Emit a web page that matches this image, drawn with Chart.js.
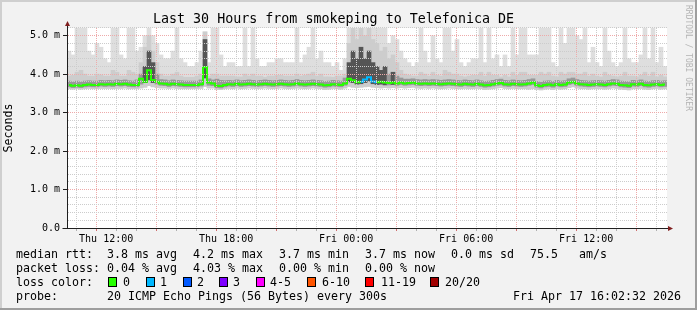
<!DOCTYPE html>
<html><head><meta charset="utf-8">
<script src="https://cdn.jsdelivr.net/npm/chart.js@4.4.1/dist/chart.umd.min.js"></script>
<style>
html,body{margin:0;padding:0;background:#f2f2f2;}
#wrap{position:relative;width:697px;height:310px;overflow:hidden;font-family:'DejaVu Sans Mono',monospace;}
canvas{position:absolute;left:0;top:0;}
.t{position:absolute;font-size:11.63px;line-height:14px;white-space:pre;color:#000;}
.box{position:absolute;width:7px;height:8px;border:1px solid #000;}
#rrd{position:absolute;left:684px;top:5px;writing-mode:vertical-rl;font-size:8px;color:#b4b4b4;line-height:8px;white-space:pre;}
</style></head><body>
<div id="wrap"><canvas id="c" width="697" height="310"></canvas><div id="rrd">RRDTOOL / TOBI OETIKER</div></div>
<script>
// ---------- data ----------
const TITLE = 'Last 30 Hours from smokeping to Telefonica DE';
const START = 10 + 2/60 + 32/3600;   // hours since Thu 00:00
const STEP = 0.2;                    // hours per sample

const median = [
3.72,3.70,3.71,3.70,3.72,3.73,3.72,3.72,3.74,3.73,
3.74,3.73,3.75,3.74,3.75,3.73,3.72,3.72,3.88,3.80,
4.10,3.85,3.80,3.76,3.75,3.73,3.75,3.74,3.73,3.72,
3.72,3.72,3.72,3.74,4.18,3.78,3.76,3.70,3.69,3.72,
3.74,3.73,3.75,3.73,3.74,3.75,3.74,3.73,3.74,3.75,
3.74,3.73,3.74,3.75,3.74,3.73,3.74,3.76,3.74,3.73,
3.74,3.75,3.74,3.73,3.71,3.72,3.74,3.73,3.72,3.76,
3.88,3.84,3.79,3.80,3.86,3.92,3.81,3.79,3.80,3.78,
3.77,3.78,3.76,3.78,3.76,3.77,3.78,3.76,3.75,3.76,
3.75,3.76,3.75,3.74,3.75,3.76,3.75,3.74,3.73,3.75,
3.74,3.73,3.75,3.73,3.71,3.72,3.74,3.76,3.77,3.74,
3.73,3.75,3.74,3.73,3.74,3.76,3.78,3.71,3.69,3.72,
3.73,3.71,3.74,3.72,3.73,3.78,3.80,3.76,3.74,3.73,
3.72,3.73,3.74,3.73,3.72,3.74,3.76,3.75,3.72,3.71,
3.70,3.74,3.73,3.75,3.72,3.71,3.73,3.74,3.72,3.73];

const loss = [
0,0,0,0,0,0,0,0,0,0, 0,0,0,0,0,0,0,0,0,0, 0,0,0,0,0,0,0,0,0,0,
0,0,0,0,0,0,0,0,0,0, 0,0,0,0,0,0,0,0,0,0, 0,0,0,0,0,0,0,0,0,0,
0,0,0,0,0,0,0,0,0,0, 0,0,0,1,1,1,1,0,0,0, 0,0,0,0,0,0,0,0,0,0,
0,0,0,0,0,0,0,0,0,0, 0,0,0,0,0,0,0,0,0,0, 0,0,0,0,0,0,0,0,0,0,
0,0,0,0,0,0,0,0,0,0, 0,0,0,0,0,0,0,0,0,0, 0,0,0,0,0,0,0,0,0,0];

const smokeMax = [
4.6,4.5,5.2,5.2,5.2,4.6,4.5,4.8,4.7,4.4,
4.3,5.2,5.2,4.5,4.4,5.2,5.2,4.6,4.7,5.0,
5.2,5.0,4.8,4.5,4.4,4.4,4.6,5.2,4.4,4.3,
4.2,4.2,4.3,4.6,5.1,4.3,5.2,5.2,4.5,4.2,
4.3,4.3,4.2,4.2,5.2,4.2,5.2,4.4,4.2,4.2,
4.3,4.3,4.4,4.4,4.3,4.3,4.3,5.2,4.3,4.5,
4.7,5.2,4.4,4.6,4.3,4.3,4.2,4.3,4.1,4.4,
5.2,5.2,5.2,5.2,5.2,5.2,5.2,5.2,5.2,5.2,
4.8,5.0,4.9,4.6,4.4,4.3,4.2,4.3,5.2,4.6,
4.3,5.0,4.4,4.3,5.2,5.2,4.6,4.9,4.3,4.2,
4.3,4.4,4.4,5.2,4.3,5.2,4.4,4.5,4.2,4.5,
4.2,5.2,4.5,5.2,5.2,4.5,4.5,4.5,5.2,5.2,
5.2,4.3,4.2,5.2,4.8,5.2,5.2,5.0,4.9,5.2,
4.3,4.7,4.3,4.2,5.2,4.6,4.3,4.2,4.3,5.2,
4.4,4.3,4.3,4.5,5.2,4.4,5.2,4.3,4.7,4.2];

const smokeUpper = [
3.95,3.97,4.05,4.10,4.00,3.95,3.95,4.00,3.98,3.95,
3.95,4.10,4.05,3.95,3.95,4.10,4.05,4.00,4.30,4.70,
5.00,4.60,4.30,4.00,3.95,3.95,4.00,4.05,3.95,3.92,
3.92,3.92,3.95,4.00,5.10,3.95,4.00,4.00,3.95,3.95,
3.95,3.95,3.93,3.93,4.00,3.95,4.00,3.95,3.95,3.92,
3.95,3.95,3.97,3.97,3.95,3.95,3.95,4.00,3.95,3.97,
4.00,4.05,3.95,4.00,3.93,3.93,3.92,3.95,3.95,4.00,
4.80,5.20,4.90,5.20,5.00,5.20,4.90,4.80,4.60,4.70,
4.40,4.50,4.30,4.10,4.00,3.97,3.95,3.95,4.05,4.00,
3.95,4.05,3.97,3.95,4.10,4.05,4.00,4.00,3.95,3.93,
3.95,3.97,3.97,4.05,3.95,4.05,3.97,3.97,3.93,3.97,
3.93,4.05,3.97,4.05,4.05,3.97,3.97,3.97,4.05,4.00,
4.05,3.95,3.93,4.05,4.00,4.05,4.05,4.00,4.00,4.05,
3.95,4.00,3.95,3.93,4.05,3.97,3.95,3.93,3.95,4.05,
3.95,3.95,3.93,3.97,4.05,3.95,4.05,3.93,3.97,3.93];

const smokeMin = [
3.62,3.61,3.62,3.61,3.62,3.63,3.62,3.62,3.63,3.63,
3.63,3.62,3.63,3.63,3.64,3.62,3.62,3.62,3.64,3.66,
3.70,3.67,3.65,3.64,3.64,3.63,3.64,3.63,3.62,3.62,
3.62,3.62,3.62,3.63,3.68,3.64,3.64,3.60,3.60,3.62,
3.63,3.62,3.64,3.62,3.63,3.64,3.63,3.62,3.63,3.64,
3.63,3.62,3.63,3.64,3.63,3.62,3.63,3.64,3.63,3.62,
3.63,3.64,3.63,3.62,3.60,3.61,3.63,3.62,3.61,3.64,
3.68,3.66,3.65,3.66,3.67,3.68,3.66,3.65,3.64,3.65,
3.64,3.65,3.64,3.65,3.64,3.65,3.66,3.64,3.63,3.64,
3.63,3.64,3.63,3.62,3.63,3.64,3.63,3.62,3.62,3.63,
3.62,3.62,3.63,3.62,3.60,3.61,3.62,3.64,3.65,3.63,
3.62,3.63,3.62,3.62,3.62,3.61,3.62,3.60,3.59,3.61,
3.62,3.60,3.62,3.61,3.62,3.65,3.67,3.64,3.62,3.62,
3.61,3.62,3.62,3.62,3.61,3.62,3.64,3.63,3.61,3.60,
3.59,3.62,3.62,3.63,3.61,3.60,3.62,3.63,3.61,3.62];

const coreLow = [
3.67,3.65,3.66,3.65,3.67,3.68,3.67,3.67,3.69,3.68,
3.69,3.68,3.70,3.69,3.70,3.68,3.67,3.67,3.74,3.78,
3.85,3.78,3.74,3.71,3.70,3.68,3.70,3.69,3.68,3.67,
3.67,3.67,3.67,3.69,3.90,3.71,3.70,3.65,3.64,3.67,
3.69,3.68,3.70,3.68,3.69,3.70,3.69,3.68,3.69,3.70,
3.69,3.68,3.69,3.70,3.69,3.68,3.69,3.71,3.69,3.68,
3.69,3.70,3.69,3.68,3.66,3.67,3.69,3.68,3.67,3.71,
3.80,3.78,3.74,3.75,3.78,3.82,3.75,3.73,3.74,3.72,
3.72,3.73,3.71,3.73,3.71,3.72,3.73,3.71,3.70,3.71,
3.70,3.71,3.70,3.69,3.70,3.71,3.70,3.69,3.68,3.70,
3.69,3.68,3.70,3.68,3.66,3.67,3.69,3.71,3.72,3.69,
3.68,3.70,3.69,3.68,3.69,3.71,3.73,3.66,3.64,3.67,
3.68,3.66,3.69,3.67,3.68,3.73,3.75,3.71,3.69,3.68,
3.67,3.68,3.69,3.68,3.67,3.69,3.71,3.70,3.67,3.66,
3.65,3.69,3.68,3.70,3.67,3.66,3.68,3.69,3.67,3.68];

const coreHigh = [
3.82,3.80,3.82,3.80,3.82,3.83,3.82,3.82,3.84,3.83,
3.84,3.83,3.85,3.84,3.85,3.83,3.82,3.85,4.00,4.20,
4.60,4.30,4.00,3.86,3.85,3.83,3.85,3.84,3.83,3.82,
3.82,3.82,3.82,3.85,4.90,3.88,3.85,3.87,3.84,3.83,
3.84,3.83,3.85,3.83,3.84,3.85,3.84,3.83,3.84,3.85,
3.84,3.83,3.84,3.85,3.84,3.83,3.84,3.86,3.84,3.83,
3.84,3.85,3.84,3.83,3.81,3.82,3.84,3.83,3.82,3.90,
4.30,4.60,4.40,4.70,4.40,4.60,4.30,4.20,4.10,4.20,
4.00,4.05,3.95,3.90,3.87,3.87,3.88,3.86,3.85,3.86,
3.85,3.86,3.85,3.84,3.85,3.86,3.85,3.84,3.83,3.85,
3.84,3.83,3.85,3.83,3.81,3.82,3.84,3.86,3.87,3.84,
3.83,3.85,3.84,3.83,3.84,3.86,3.88,3.81,3.79,3.82,
3.83,3.81,3.84,3.82,3.83,3.88,3.90,3.86,3.84,3.83,
3.82,3.83,3.84,3.83,3.82,3.84,3.86,3.85,3.82,3.81,
3.80,3.84,3.83,3.85,3.82,3.81,3.83,3.84,3.82,3.83];

const xTickHours = [12, 18, 24, 30, 36];
const xTickLabels = ['Thu 12:00', 'Thu 18:00', 'Fri 00:00', 'Fri 06:00', 'Fri 12:00'];
const yTickValues = [0, 1, 2, 3, 4, 5];
const yTickLabels = ['0.0', '1.0 m', '2.0 m', '3.0 m', '4.0 m', '5.0 m'];

const lossLabels = ['0', '1', '2', '3', '4-5', '6-10', '11-19', '20/20'];
const lossColors = ['#26ff00', '#00b8ff', '#0059ff', '#7e00ff', '#ff00ff', '#ff5500', '#ff0000', '#a10000'];
const rttStats = ['median rtt:', '3.8 ms avg', '4.2 ms max', '3.7 ms min', '3.7 ms now', '0.0 ms sd', '75.5', 'am/s'];
const lossStats = ['packet loss:', '0.04 % avg', '4.03 % max', '0.00 % min', '0.00 % now'];
const probeInfo = ['probe:', '20 ICMP Echo Pings (56 Bytes) every 300s', 'Fri Apr 17 16:02:32 2026'];

// ---------- chart ----------
const FONT = 'DejaVu Sans Mono';
const MAJOR = '#eeaaaa';
const MINOR = '#cccccc';
const END = START + 30;
const times = median.map((_, i) => START + STEP * (i + 0.5));
const pairs = (a, b) => times.map((t, i) => ({x: t, y: [a[i], b[i]]}));
function lossColor(n) {
  if (n <= 0) return lossColors[0];
  if (n === 1) return lossColors[1];
  if (n === 2) return lossColors[2];
  if (n === 3) return lossColors[3];
  if (n <= 5) return lossColors[4];
  if (n <= 10) return lossColors[5];
  if (n <= 19) return lossColors[6];
  return lossColors[7];
}
const hourTicks = [];
for (let h = 11; h <= 40; h++) hourTicks.push(h);
const yGrid = [];
for (let k = 0; k <= 26; k++) yGrid.push(Math.round(k * 2) / 10);

const bgPlugin = {
  id: 'bg',
  beforeDraw(chart) {
    const {ctx, chartArea: a} = chart;
    ctx.save();
    ctx.fillStyle = '#f2f2f2';
    ctx.fillRect(0, 0, chart.width, chart.height);
    ctx.fillStyle = '#ffffff';
    ctx.fillRect(a.left, a.top, a.right - a.left, a.bottom - a.top);
    ctx.restore();
  }
};
const decoPlugin = {
  id: 'deco',
  afterDraw(chart) {
    const {ctx, chartArea: a} = chart;
    const W = chart.width, H = chart.height;
    ctx.save();
    ctx.fillStyle = '#cfcfcf';
    ctx.fillRect(0, 0, W, 2); ctx.fillRect(0, 0, 2, H);
    ctx.fillStyle = '#9e9e9e';
    ctx.fillRect(0, H - 2, W, 2); ctx.fillRect(W - 2, 0, 2, H);
    const ax = Math.round(a.left) + 0.5, ay = Math.round(a.bottom) + 0.5;
    ctx.strokeStyle = '#1f1f1f'; ctx.lineWidth = 1;
    ctx.beginPath();
    ctx.moveTo(ax - 5, ay); ctx.lineTo(a.right + 3, ay);
    ctx.moveTo(ax, ay); ctx.lineTo(ax, a.top - 3);
    ctx.stroke();
    ctx.fillStyle = '#801f1f';
    ctx.beginPath();
    ctx.moveTo(ax - 2.5, a.top - 2); ctx.lineTo(ax + 2.5, a.top - 2); ctx.lineTo(ax, a.top - 7); ctx.closePath(); ctx.fill();
    ctx.beginPath();
    ctx.moveTo(a.right + 1, ay - 2.5); ctx.lineTo(a.right + 1, ay + 2.5); ctx.lineTo(a.right + 6, ay); ctx.closePath(); ctx.fill();
    ctx.restore();
  }
};

new Chart(document.getElementById('c'), {
  type: 'bar',
  data: {
    datasets: [
      {type: 'line', data: times.map((t, i) => ({x: t, y: median[i]})), stepped: 'middle',
       borderWidth: 2, pointRadius: 0, borderColor: lossColors[0],
       segment: {borderColor: c => lossColor(loss[c.p0DataIndex])}, order: 0},
      {type: 'bar', data: pairs(coreLow, coreHigh), order: 1,
       backgroundColor: c => (coreHigh[c.dataIndex] - coreLow[c.dataIndex] > 0.3) ? '#555555' : '#999999'},
      {type: 'bar', data: pairs(smokeMin, smokeUpper), backgroundColor: '#cdcdcd', order: 2},
      {type: 'bar', data: pairs(smokeMin, smokeMax), backgroundColor: '#dedede', order: 3}
    ]
  },
  options: {
    responsive: false, animation: false, devicePixelRatio: 1,
    layout: {padding: {left: 0, right: 30, top: 0, bottom: 0}},
    datasets: {bar: {grouped: false, barPercentage: 1, categoryPercentage: 1, borderWidth: 0}},
    plugins: {
      legend: {display: false}, tooltip: {enabled: false},
      title: {display: true, text: TITLE, color: '#000',
              font: {family: FONT, size: 13.33, weight: 'normal', lineHeight: 1.2},
              padding: {top: 12, bottom: 0}}
    },
    scales: {
      x: {
        type: 'linear', min: START, max: END, offset: false,
        afterBuildTicks: s => { s.ticks = hourTicks.map(v => ({value: v})); },
        afterFit: s => { s.height = 82; s.paddingLeft = 0; s.paddingRight = 0; },
        ticks: {autoSkip: false, maxRotation: 0, minRotation: 0, padding: 2, color: '#000',
                font: {family: FONT, size: 10},
                callback: v => { const k = xTickHours.indexOf(v); return k >= 0 ? xTickLabels[k] : ''; }},
        grid: {z: 1, lineWidth: 1, tickLength: 3,
               color: c => (c.tick && c.tick.value % 3 === 0) ? MAJOR : MINOR,
               tickColor: c => (c.tick && c.tick.value % 3 === 0) ? '#d07070' : '#b0b0b0'},
        border: {z: 1, color: '#1f1f1f', dash: [1, 1]}
      },
      y: {
        min: 0, max: 5.2,
        afterBuildTicks: s => { s.ticks = yGrid.map(v => ({value: v})); },
        afterFit: s => { s.width = 67; s.paddingTop = 0; s.paddingBottom = 0; },
        ticks: {autoSkip: false, padding: 3, color: '#000', font: {family: FONT, size: 10},
                callback: v => { const k = yTickValues.indexOf(v); return k >= 0 ? yTickLabels[k] : ''; }},
        grid: {z: 1, lineWidth: 1, tickLength: 4,
               color: c => {
                 const v = c.tick ? c.tick.value : -1;
                 if (v === 0) return 'rgba(0,0,0,0)';
                 return yTickValues.indexOf(v) >= 0 ? MAJOR : MINOR;
               },
               tickColor: c => (c.tick && yTickValues.indexOf(c.tick.value) >= 0) ? '#1f1f1f' : 'rgba(0,0,0,0)'},
        border: {z: 1, color: '#555555', dash: [1, 1]},
        title: {display: true, text: 'Seconds', color: '#000', font: {family: FONT, size: 11.63},
                padding: {top: 2, bottom: 0}}
      }
    }
  },
  plugins: [bgPlugin, decoPlugin]
});

// ---------- legend (HTML text) ----------
const wrap = document.getElementById('wrap');
function addText(x, y, s) {
  const d = document.createElement('div');
  d.className = 't'; d.style.left = x + 'px'; d.style.top = y + 'px'; d.textContent = s;
  wrap.appendChild(d);
}
const rowTop = [247, 261, 275, 289];
const rttX = [16, 107, 193, 279, 365, 451, 530, 579];
rttStats.forEach((s, i) => addText(rttX[i], rowTop[0], s));
const lossX = [16, 107, 193, 279, 365];
lossStats.forEach((s, i) => addText(lossX[i], rowTop[1], s));
addText(16, rowTop[2], 'loss color:');
const boxX = [108, 146, 183, 219, 256, 307, 365, 430];
const labX = [123, 160, 197, 233, 270, 322, 381, 445];
lossLabels.forEach((s, i) => {
  const b = document.createElement('div');
  b.className = 'box'; b.style.left = boxX[i] + 'px'; b.style.top = (rowTop[2] + 2) + 'px';
  b.style.background = lossColors[i];
  wrap.appendChild(b);
  addText(labX[i], rowTop[2], s);
});
const probeX = [16, 107, 513];
probeInfo.forEach((s, i) => addText(probeX[i], rowTop[3], s));
</script>
</body></html>
